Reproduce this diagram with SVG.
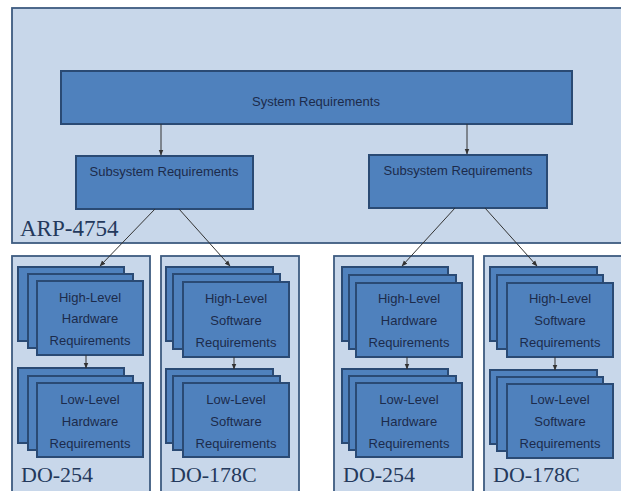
<svg xmlns="http://www.w3.org/2000/svg" width="621" height="491" viewBox="0 0 621 491">
<style>
.cont{fill:#c8d7ea;stroke:#3d5b80;stroke-width:1.8}
.box{fill:#4f81bd;stroke:#2a4a74;stroke-width:2}
.t{font-family:"Liberation Sans",Arial,sans-serif;font-size:13px;fill:#1c2b4b;text-anchor:middle}
.big{font-family:"Liberation Serif","Times New Roman",serif;fill:#24395c}
.c{stroke:#333;stroke-width:1;fill:none;marker-end:url(#ah)}
</style>
<defs>
<marker id="ah" viewBox="0 0 10 10" refX="9" refY="5" markerWidth="6" markerHeight="6" orient="auto" markerUnits="userSpaceOnUse">
<path d="M0,1 L10,5 L0,9 z" fill="#333"/>
</marker>
</defs>
<rect width="621" height="491" fill="#fff"/>
<g id="arp">
<rect class="cont" x="12" y="8" width="620" height="235"/>
<text class="big" x="20" y="236" font-size="23">ARP-4754</text>
</g>
<g id="sys">
<rect class="box" x="61" y="71" width="511" height="53"/>
<text class="t" x="316" y="106">System Requirements</text>
</g>
<g id="sub1">
<rect class="box" x="76" y="156" width="177" height="53"/>
<text class="t" x="164" y="176">Subsystem Requirements</text>
</g>
<g id="sub2">
<rect class="box" x="369" y="155" width="178" height="53"/>
<text class="t" x="458" y="175">Subsystem Requirements</text>
</g>
<g id="do254a">
<rect class="cont" x="12" y="256" width="138" height="240"/>
<text class="big" x="21" y="482" font-size="22">DO-254</text>
</g>
<g id="do178a">
<rect class="cont" x="161" y="256" width="138" height="240"/>
<text class="big" x="170" y="482" font-size="22">DO-178C</text>
</g>
<g id="do254b">
<rect class="cont" x="334" y="256" width="139" height="240"/>
<text class="big" x="343" y="482" font-size="22">DO-254</text>
</g>
<g id="do178b">
<rect class="cont" x="484" y="256" width="145" height="240"/>
<text class="big" x="493" y="482" font-size="22">DO-178C</text>
</g>
<g id="hlhw1">
<rect class="box" x="18" y="267" width="106" height="74"/>
<rect class="box" x="28" y="274" width="105" height="74"/>
<rect class="box" x="37" y="281" width="106" height="74"/>
<text class="t" x="90" y="302">High-Level</text>
<text class="t" x="90" y="323">Hardware</text>
<text class="t" x="90" y="345">Requirements</text>
</g>
<g id="llhw1">
<rect class="box" x="18" y="368" width="106" height="75"/>
<rect class="box" x="28" y="376" width="105" height="74"/>
<rect class="box" x="37" y="383" width="106" height="74"/>
<text class="t" x="90" y="404">Low-Level</text>
<text class="t" x="90" y="426">Hardware</text>
<text class="t" x="90" y="448">Requirements</text>
</g>
<g id="hlsw1">
<rect class="box" x="166" y="267" width="107" height="74"/>
<rect class="box" x="173" y="274" width="107" height="75"/>
<rect class="box" x="183" y="282" width="106" height="75"/>
<text class="t" x="236" y="303">High-Level</text>
<text class="t" x="236" y="325">Software</text>
<text class="t" x="236" y="347">Requirements</text>
</g>
<g id="llsw1">
<rect class="box" x="166" y="369" width="107" height="74"/>
<rect class="box" x="173" y="376" width="107" height="74"/>
<rect class="box" x="183" y="383" width="106" height="74"/>
<text class="t" x="236" y="404">Low-Level</text>
<text class="t" x="236" y="426">Software</text>
<text class="t" x="236" y="448">Requirements</text>
</g>
<g id="hlhw2">
<rect class="box" x="342" y="267" width="106" height="74"/>
<rect class="box" x="349" y="275" width="107" height="74"/>
<rect class="box" x="356" y="283" width="106" height="74"/>
<text class="t" x="409" y="303">High-Level</text>
<text class="t" x="409" y="325">Hardware</text>
<text class="t" x="409" y="347">Requirements</text>
</g>
<g id="llhw2">
<rect class="box" x="342" y="369" width="106" height="74"/>
<rect class="box" x="349" y="376" width="107" height="74"/>
<rect class="box" x="356" y="383" width="106" height="74"/>
<text class="t" x="409" y="404">Low-Level</text>
<text class="t" x="409" y="426">Hardware</text>
<text class="t" x="409" y="448">Requirements</text>
</g>
<g id="hlsw2">
<rect class="box" x="490" y="267" width="107" height="74"/>
<rect class="box" x="497" y="275" width="106" height="74"/>
<rect class="box" x="507" y="283" width="106" height="74"/>
<text class="t" x="560" y="303">High-Level</text>
<text class="t" x="560" y="325">Software</text>
<text class="t" x="560" y="347">Requirements</text>
</g>
<g id="llsw2">
<rect class="box" x="490" y="370" width="107" height="74"/>
<rect class="box" x="497" y="377" width="106" height="74"/>
<rect class="box" x="507" y="384" width="106" height="74"/>
<text class="t" x="560" y="404">Low-Level</text>
<text class="t" x="560" y="426">Software</text>
<text class="t" x="560" y="448">Requirements</text>
</g>
<g id="connectors">
<path class="c" d="M161,124 L161,155"/>
<path class="c" d="M467,124 L467,154"/>
<path class="c" d="M155,209 L100,266"/>
<path class="c" d="M179,209 L230,266"/>
<path class="c" d="M455,208 L402,266"/>
<path class="c" d="M485,208 L537,266"/>
<path class="c" d="M86,355 L86,368"/>
<path class="c" d="M234,357 L234,369"/>
<path class="c" d="M407,357 L407,369"/>
<path class="c" d="M555,357 L555,370"/>
</g>
</svg>
